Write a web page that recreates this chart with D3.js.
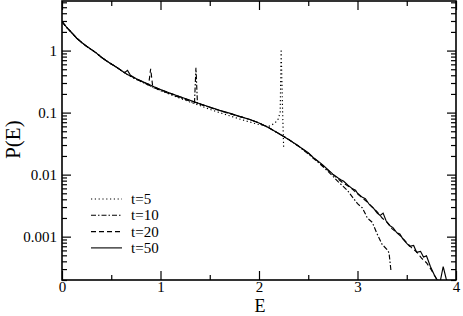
<!DOCTYPE html>
<html>
<head>
<meta charset="utf-8">
<script src="https://cdn.jsdelivr.net/npm/d3@7"></script>
<style>
  body { margin: 0; background: #fff; }
  svg, svg text { font-family: "Liberation Serif", "Times New Roman", serif; }
  svg { display: block; }
  .axis text { font-size: 15px; fill: #000; font-family: "Liberation Serif", serif; }
  .axis line { stroke: #000; stroke-width: 1.2; }
  .axis path { display: none; }
</style>
</head>
<body>
<div id="chart"></div>
<script>
// energy E, probability P(E)
var t5 = [[0,2.92],[0.05,2.34],[0.1,1.93],[0.15,1.58],[0.2,1.35],[0.25,1.17],[0.3,1.035],[0.35,0.91],[0.4,0.78],[0.45,0.685],[0.5,0.61],[0.55,0.545],[0.6,0.48],[0.66,0.415],[0.75,0.345],[0.85,0.29],[0.94,0.248],[1.0,0.226],[1.1,0.196],[1.2,0.17],[1.3,0.148],[1.4,0.13],[1.5,0.113],[1.6,0.1],[1.7,0.089],[1.8,0.079],[1.9,0.071],[2.0,0.064],[2.1,0.06],[2.15,0.066],[2.19,0.075],[2.215,0.1],[2.225,1.05],[2.24,0.1],[2.25,0.028]]

var t10 = [[0,2.92],[0.05,2.34],[0.1,1.93],[0.15,1.58],[0.2,1.35],[0.25,1.17],[0.3,1.035],[0.35,0.91],[0.4,0.78],[0.45,0.685],[0.5,0.61],[0.55,0.545],[0.6,0.48],[0.66,0.415],[0.75,0.348],[0.85,0.293],[0.94,0.25],[1.0,0.229],[1.1,0.199],[1.2,0.174],[1.3,0.152],[1.345,0.143],[1.36,0.53],[1.375,0.14],[1.4,0.137],[1.5,0.121],[1.6,0.108],[1.7,0.097],[1.8,0.087],[1.9,0.078],[2.0,0.068],[2.1,0.057],[2.2,0.046],[2.3,0.037],[2.4,0.0288],[2.5,0.0215],[2.6,0.0158],[2.7,0.0113],[2.8,0.0078],[2.9,0.0055],[3.0,0.0034],[3.05,0.0029],[3.1,0.002],[3.15,0.0017],[3.2,0.0011],[3.25,0.00075],[3.3,0.00062],[3.32,0.00055],[3.34,0.00028]]

var t20 = [[0,2.92],[0.05,2.34],[0.1,1.93],[0.15,1.58],[0.2,1.35],[0.25,1.17],[0.3,1.035],[0.35,0.91],[0.4,0.78],[0.45,0.685],[0.5,0.61],[0.55,0.545],[0.6,0.48],[0.66,0.415],[0.75,0.352],[0.85,0.298],[0.88,0.283],[0.9,0.51],[0.92,0.27],[0.94,0.256],[1.0,0.234],[1.1,0.204],[1.2,0.179],[1.3,0.157],[1.4,0.138],[1.5,0.122],[1.6,0.108],[1.7,0.097],[1.8,0.087],[1.9,0.078],[2.0,0.068],[2.1,0.057],[2.2,0.046],[2.3,0.037],[2.4,0.029],[2.5,0.0222],[2.6,0.0162],[2.7,0.0118],[2.8,0.0086],[2.85,0.0074],[2.9,0.0066],[2.95,0.0058],[3.0,0.0049],[3.05,0.0042],[3.1,0.0036],[3.15,0.003],[3.2,0.0025],[3.25,0.002],[3.3,0.0017],[3.35,0.00135],[3.4,0.00115],[3.45,0.00098],[3.5,0.0008],[3.55,0.00066],[3.6,0.00057],[3.65,0.00045],[3.7,0.00038],[3.75,0.00029],[3.8,0.00021],[3.83,0.00019]]

var t50 = [[0,2.92],[0.05,2.34],[0.1,1.93],[0.15,1.58],[0.2,1.35],[0.25,1.17],[0.3,1.035],[0.35,0.91],[0.4,0.78],[0.45,0.685],[0.5,0.61],[0.55,0.545],[0.6,0.48],[0.635,0.44],[0.665,0.48],[0.695,0.4],[0.75,0.355],[0.85,0.3],[0.94,0.258],[1.0,0.236],[1.1,0.205],[1.2,0.18],[1.3,0.158],[1.4,0.139],[1.5,0.123],[1.6,0.109],[1.7,0.098],[1.8,0.087],[1.9,0.078],[2.0,0.068],[2.1,0.057],[2.2,0.046],[2.3,0.037],[2.4,0.029],[2.5,0.0225],[2.55,0.019],[2.6,0.0165],[2.65,0.0142],[2.7,0.012],[2.75,0.0102],[2.8,0.0089],[2.83,0.0083],[2.86,0.0078],[2.9,0.0068],[2.95,0.0059],[2.98,0.0056],[3.0,0.005],[3.05,0.0043],[3.08,0.0041],[3.12,0.0033],[3.16,0.0029],[3.2,0.0024],[3.23,0.0022],[3.26,0.0024],[3.29,0.0018],[3.33,0.0015],[3.36,0.0014],[3.4,0.00115],[3.43,0.0011],[3.46,0.00092],[3.5,0.00078],[3.53,0.0007],[3.57,0.00072],[3.6,0.00056],[3.64,0.00058],[3.67,0.00047],[3.7,0.00049],[3.74,0.00033],[3.78,0.00024],[3.81,0.0002],[3.84,0.00019],[3.87,0.00033],[3.9,0.00021],[3.93,0.00017]]

var seriesNames = ['t=5', 't=10', 't=20', 't=50']
var xTicks = [0, 1, 2, 3, 4]
var xMinor = [0.5, 1.5, 2.5, 3.5]
var yTicks = [0.001, 0.01, 0.1, 1]
var yLabels = ['0.001', '0.01', '0.1', '1']

var W = 463, H = 316
var margin = {left: 62, right: 7, top: 1, bottom: 36}
var width = W - margin.left - margin.right
var height = H - margin.top - margin.bottom
var serif = '"Liberation Serif", "Times New Roman", serif'

var svg = d3.select('#chart').append('svg').attr('width', W).attr('height', H)
var g = svg.append('g').attr('transform', 'translate(' + margin.left + ',' + margin.top + ')')

var x = d3.scaleLinear().domain([0, 4]).range([0, width])
var y = d3.scaleLog().domain([2e-4, 6.3]).range([height, 0])

var yMinor = []
;[1e-4, 1e-3, 1e-2, 0.1, 1].forEach(function(d){
  for (var k = 2; k <= 9; k++){
    var v = d * k
    if (v >= y.domain()[0] && v <= y.domain()[1]) yMinor.push(v)
  }
})

g.append('clipPath').attr('id', 'clip').append('rect').attr('width', width).attr('height', height)

// axes, ticks pointing inward on all four sides
function axis(gen, tx, ty){
  return g.append('g').attr('class', 'axis')
    .attr('transform', 'translate(' + tx + ',' + ty + ')')
    .call(gen)
    .attr('font-family', serif).attr('font-size', 15)
}
axis(d3.axisBottom(x).tickValues(xTicks).tickSize(-9).tickPadding(12).tickFormat(d3.format('d')), 0, height)
  .selectAll('text').attr('dy', null)
axis(d3.axisBottom(x).tickValues(xMinor).tickSize(-5).tickFormat(''), 0, height)
axis(d3.axisTop(x).tickValues(xTicks).tickSize(-9).tickFormat(''), 0, 0)
axis(d3.axisTop(x).tickValues(xMinor).tickSize(-5).tickFormat(''), 0, 0)

axis(d3.axisLeft(y).tickValues(yTicks).tickSize(-9).tickPadding(5).tickFormat(function(d, i){ return yLabels[i] }), 0, 0)
axis(d3.axisLeft(y).tickValues(yMinor).tickSize(-5).tickFormat(''), 0, 0)
axis(d3.axisRight(y).tickValues(yTicks).tickSize(-9).tickFormat(''), width, 0)
axis(d3.axisRight(y).tickValues(yMinor).tickSize(-5).tickFormat(''), width, 0)

g.append('rect').attr('width', width).attr('height', height)
  .attr('fill', 'none').attr('stroke', '#000').attr('stroke-width', 1.6)

var line = d3.line().x(function(d){ return x(d[0]) }).y(function(d){ return y(d[1]) })

var dashes = ['1.2,2.6', '5,2,1.5,2', '5,3', null]
var plot = g.append('g').attr('clip-path', 'url(#clip)')
;[t5, t10, t20, t50].forEach(function(s, i){
  plot.append('path').attr('d', line(s))
    .attr('fill', 'none').attr('stroke', '#000').attr('stroke-width', 1.15)
    .attr('stroke-dasharray', dashes[i])
})

// legend
var leg = svg.append('g').attr('transform', 'translate(91,199)')
seriesNames.forEach(function(n, i){
  var row = leg.append('g').attr('transform', 'translate(0,' + (i * 16.3) + ')')
  row.append('line').attr('x1', 0).attr('x2', 31)
    .attr('stroke', '#000').attr('stroke-width', 1.1).attr('stroke-dasharray', dashes[i])
  row.append('text').attr('x', 40).attr('y', 5).attr('font-family', serif).attr('font-size', 15).text(n)
})

svg.append('text').attr('x', margin.left + width / 2 + 1).attr('y', 311.5)
  .attr('text-anchor', 'middle').attr('font-family', serif).attr('font-size', 18).text('E')
svg.append('text').attr('transform', 'translate(20,' + (margin.top + y(0.1) + 27) + ') rotate(-90)')
  .attr('text-anchor', 'middle').attr('font-family', serif).attr('font-size', 21).text('P(E)')
</script>
</body>
</html>
